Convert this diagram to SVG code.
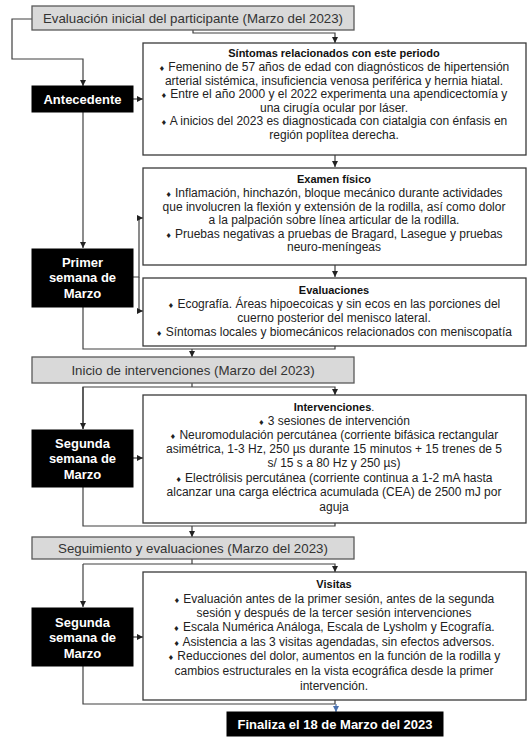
<svg xmlns="http://www.w3.org/2000/svg" width="527" height="737" viewBox="0 0 527 737">
<style>
.gray{fill:#d9d9d9;stroke:#595959;stroke-width:1.3}
.white{fill:#fff;stroke:#3a3a3a;stroke-width:1.3}
.black{fill:#000;stroke:#000}
.gt{font-family:"Liberation Sans",Arial,sans-serif;font-size:13.3px;fill:#333;text-anchor:middle}
.bt{font-family:"Liberation Sans",Arial,sans-serif;font-size:13px;font-weight:bold;fill:#fff;text-anchor:middle}
.tt{font-family:"Liberation Sans",Arial,sans-serif;font-size:11px;font-weight:bold;fill:#111;text-anchor:middle}
.t{font-family:"Liberation Sans",Arial,sans-serif;font-size:12px;fill:#222;text-anchor:middle}
.b{font-family:"DejaVu Sans",sans-serif;font-size:7px}
.c{fill:none;stroke:#404040;stroke-width:1.2}
.cb{fill:none;stroke:#4a72b0;stroke-width:1.2}
</style>
<defs>
<marker id="ah" viewBox="0 0 6 6" refX="6" refY="3" markerWidth="6" markerHeight="6" markerUnits="userSpaceOnUse" orient="auto"><path d="M0,0 L6,3 L0,6 z" fill="#222"/></marker>
<marker id="ahb" viewBox="0 0 6 6" refX="6" refY="3" markerWidth="6" markerHeight="6" markerUnits="userSpaceOnUse" orient="auto"><path d="M0,0 L6,3 L0,6 z" fill="#4a72b0"/></marker>
</defs>

<g id="connectors">
<path class="c" d="M32,19 H12 V59 H83 V86" marker-end="url(#ah)"/>
<path class="c" d="M193,30 V33 H335 V43" marker-end="url(#ah)"/>
<path class="c" d="M133,99 H143" marker-end="url(#ah)"/>
<path class="c" d="M335,155 V167" marker-end="url(#ah)"/>
<path class="c" d="M83,112 V248" marker-end="url(#ah)"/>
<path class="c" d="M335,265 V277" marker-end="url(#ah)"/>
<path class="c" d="M133,277 H139 V218 H143" marker-end="url(#ah)"/>
<path class="c" d="M139,277 V311 H143" marker-end="url(#ah)"/>
<path class="c" d="M83,307 V349 H335 V346"/>
<path class="c" d="M192,349 V357" marker-end="url(#ah)"/>
<path class="c" d="M192,383 V387"/>
<path class="c" d="M83,429 V387 H335 V395" marker-end="url(#ah)"/>
<path class="c" d="M83,387 V429" marker-end="url(#ah)"/>
<path class="c" d="M133,458 H143" marker-end="url(#ah)"/>
<path class="c" d="M83,487 V526 H335 V523"/>
<path class="c" d="M192,526 V537" marker-end="url(#ah)"/>
<path class="c" d="M192,559 V564"/>
<path class="c" d="M83,564 H335 V572" marker-end="url(#ah)"/>
<path class="c" d="M83,564 V607" marker-end="url(#ah)"/>
<path class="c" d="M133,637 H143" marker-end="url(#ah)"/>
<path class="c" d="M83,666 V704 H335 V700"/>
<path class="cb" d="M336,704 V712" marker-end="url(#ahb)"/>
</g>

<g id="n-eval-inicial">
<rect class="gray" x="32" y="6" width="322" height="24"/>
<text class="gt" x="193" y="22.5">Evaluación inicial del participante (Marzo del 2023)</text>
</g>

<g id="n-antecedente">
<rect class="black" x="32" y="86" width="101" height="26"/>
<text class="bt" x="82.5" y="103.5">Antecedente</text>
</g>

<g id="n-sintomas">
<rect class="white" x="143" y="43" width="383" height="112"/>
<text class="tt" x="334" y="57">Síntomas relacionados con este periodo</text>
<text class="t" x="334" y="71"><tspan class="b">♦</tspan> Femenino de 57 años de edad con diagnósticos de hipertensión</text>
<text class="t" x="334" y="84.5">arterial sistémica, insuficiencia venosa periférica y hernia hiatal.</text>
<text class="t" x="334" y="98"><tspan class="b">♦</tspan> Entre el año 2000 y el 2022 experimenta una apendicectomía y</text>
<text class="t" x="334" y="111.5">una cirugía ocular por láser.</text>
<text class="t" x="334" y="125"><tspan class="b">♦</tspan> A inicios del 2023 es diagnosticada con ciatalgia con énfasis en</text>
<text class="t" x="334" y="138.5">región poplítea derecha.</text>
</g>

<g id="n-examen">
<rect class="white" x="143" y="168" width="383" height="97"/>
<text class="tt" x="334" y="183">Examen físico</text>
<text class="t" x="334" y="197"><tspan class="b">♦</tspan> Inflamación, hinchazón, bloque mecánico durante actividades</text>
<text class="t" x="334" y="210.5">que involucren la flexión y extensión de la rodilla, así como dolor</text>
<text class="t" x="334" y="224">a la palpación sobre línea articular de la rodilla.</text>
<text class="t" x="334" y="237.5"><tspan class="b">♦</tspan> Pruebas negativas a pruebas de Bragard, Lasegue y pruebas</text>
<text class="t" x="334" y="251">neuro-meníngeas</text>
</g>

<g id="n-evaluaciones">
<rect class="white" x="143" y="278" width="383" height="68"/>
<text class="tt" x="334" y="294">Evaluaciones</text>
<text class="t" x="334" y="308"><tspan class="b">♦</tspan> Ecografía. Áreas hipoecoicas y sin ecos en las porciones del</text>
<text class="t" x="334" y="322">cuerno posterior del menisco lateral.</text>
<text class="t" x="334" y="336"><tspan class="b">♦</tspan> Síntomas locales y biomecánicos relacionados con meniscopatía</text>
</g>

<g id="n-primer">
<rect class="black" x="32" y="249" width="101" height="58"/>
<text class="bt" x="82.5" y="266.5">Primer</text>
<text class="bt" x="82.5" y="281.5">semana de</text>
<text class="bt" x="82.5" y="297.5">Marzo</text>
</g>

<g id="n-inicio">
<rect class="gray" x="32" y="357" width="322" height="26"/>
<text class="gt" x="193" y="374.5">Inicio de intervenciones (Marzo del 2023)</text>
</g>

<g id="n-segunda1">
<rect class="black" x="32" y="430" width="101" height="57"/>
<text class="bt" x="82.5" y="447.5">Segunda</text>
<text class="bt" x="82.5" y="462.5">semana de</text>
<text class="bt" x="82.5" y="478.5">Marzo</text>
</g>

<g id="n-intervenciones">
<rect class="white" x="143" y="395" width="383" height="128"/>
<text class="tt" x="334" y="411">Intervenciones<tspan font-weight="normal">.</tspan></text>
<text class="t" x="334" y="425"><tspan class="b">♦</tspan> 3 sesiones de intervención</text>
<text class="t" x="334" y="439"><tspan class="b">♦</tspan> Neuromodulación percutánea (corriente bifásica rectangular</text>
<text class="t" x="334" y="453">asimétrica, 1-3 Hz, 250 µs durante 15 minutos + 15 trenes de 5</text>
<text class="t" x="334" y="467">s/ 15 s a 80 Hz y 250 µs)</text>
<text class="t" x="334" y="482"><tspan class="b">♦</tspan> Electrólisis percutánea (corriente continua a 1-2 mA hasta</text>
<text class="t" x="334" y="496">alcanzar una carga eléctrica acumulada (CEA) de 2500 mJ por</text>
<text class="t" x="334" y="511">aguja</text>
</g>

<g id="n-seguimiento">
<rect class="gray" x="32" y="537" width="322" height="22"/>
<text class="gt" x="193" y="552.5">Seguimiento y evaluaciones (Marzo del 2023)</text>
</g>

<g id="n-segunda2">
<rect class="black" x="32" y="608" width="101" height="58"/>
<text class="bt" x="82.5" y="626.5">Segunda</text>
<text class="bt" x="82.5" y="641.5">semana de</text>
<text class="bt" x="82.5" y="657.5">Marzo</text>
</g>

<g id="n-visitas">
<rect class="white" x="143" y="572" width="383" height="128"/>
<text class="tt" x="334" y="588">Visitas</text>
<text class="t" x="334" y="603"><tspan class="b">♦</tspan> Evaluación antes de la primer sesión, antes de la segunda</text>
<text class="t" x="334" y="617">sesión y después de la tercer sesión intervenciones</text>
<text class="t" x="334" y="631"><tspan class="b">♦</tspan> Escala Numérica Análoga,  Escala de Lysholm y Ecografía.</text>
<text class="t" x="334" y="646"><tspan class="b">♦</tspan> Asistencia a las 3 visitas agendadas, sin efectos adversos.</text>
<text class="t" x="334" y="660"><tspan class="b">♦</tspan> Reducciones del dolor, aumentos en la función de la rodilla y</text>
<text class="t" x="334" y="675">cambios estructurales en la vista ecográfica desde la primer</text>
<text class="t" x="334" y="690">intervención.</text>
</g>

<g id="n-finaliza">
<rect class="black" x="227" y="712" width="216" height="24"/>
<text class="bt" x="335" y="729" font-size="13.5">Finaliza el 18 de Marzo del 2023</text>
</g>
</svg>
